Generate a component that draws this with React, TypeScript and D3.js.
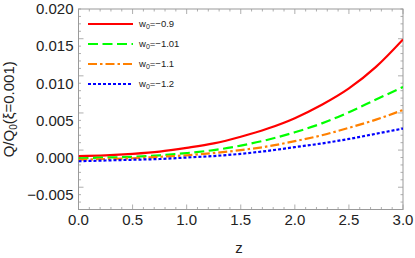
import React from "react";
import * as d3 from "d3";

const zs = [0, 0.25, 0.5, 0.75, 1.0, 1.25, 1.5, 1.75, 2.0, 2.25, 2.5, 2.75, 3.0];
const red = [0.0002, 0.0003, 0.0005, 0.0008, 0.0013, 0.0019, 0.0028, 0.0039, 0.0053, 0.0071, 0.0093, 0.0122, 0.0159];
const green = [-0.0001, 0.0, 0.0001, 0.0003, 0.0006, 0.001, 0.0016, 0.0024, 0.0034, 0.0046, 0.0061, 0.0078, 0.0095];
const orange = [-0.0003, -0.0002, -0.0001, 0.0001, 0.0003, 0.0006, 0.001, 0.0015, 0.0022, 0.003, 0.004, 0.0051, 0.0064];
const blue = [-0.0005, -0.0004, -0.0003, -0.0002, 0.0, 0.0002, 0.0005, 0.0009, 0.0014, 0.0019, 0.0025, 0.0032, 0.0039];
const legendLabels = ["-0.9", "-1.01", "-1.1", "-1.2"];
const xTicks = [0, 0.5, 1, 1.5, 2, 2.5, 3];
const yTicks = [-0.005, 0, 0.005, 0.01, 0.015, 0.02];

const W = 415, H = 258;
const margin = { left: 78.5, right: 12, top: 9, bottom: 48.5 };

const series = [
  { vals: red, color: "#ff0000", dash: "none" },
  { vals: green, color: "#00ff00", dash: "10,4.5" },
  { vals: orange, color: "#ff8000", dash: "9,3,2.5,3" },
  { vals: blue, color: "#0000ff", dash: "3,2" },
];

export default function App() {
  const x = d3.scaleLinear().domain([0, 3]).range([margin.left, W - margin.right]);
  const y = d3.scaleLinear().domain([-0.007, 0.02]).range([H - margin.bottom, margin.top]);
  const line = d3.line<number>().x((_, i) => x(zs[i])).y(d => y(d)).curve(d3.curveMonotoneX);
  const x0 = x.range()[0], x1 = x.range()[1], y0 = y.range()[0], y1 = y.range()[1];
  const frame = "#9a9a9a";
  const xMinor = d3.range(0, 30.01, 1).map(v => v / 10);
  const yMinor = d3.range(-7, 20.01, 1).map(v => v / 1000);
  const font = "'Liberation Sans', Arial, sans-serif";
  const fmtY = d3.format(".3f");
  const fmtX = d3.format(".1f");
  const minus = (s: string) => s.replace("-", "\u2212");

  return (
    <svg width={W} height={H} style={{ position: "absolute", left: 0, top: 0, background: "#fff" }} fontFamily={font}>
      <defs>
        <clipPath id="clip"><rect x={x0} y={y1} width={x1 - x0} height={y0 - y1} /></clipPath>
      </defs>
      {/* ticks, inside on all four sides */}
      {xMinor.map((v, i) => {
        const len = i % 5 === 0 ? 5 : 2.5;
        return (
          <g key={"xm" + i} stroke={frame} strokeWidth={0.8}>
            <line x1={x(v)} x2={x(v)} y1={y0} y2={y0 - len} />
            <line x1={x(v)} x2={x(v)} y1={y1} y2={y1 + len} />
          </g>
        );
      })}
      {yMinor.map((v, i) => {
        const len = (i + 2) % 5 === 0 ? 5 : 2.5;
        return (
          <g key={"ym" + i} stroke={frame} strokeWidth={0.8}>
            <line x1={x0} x2={x0 + len} y1={y(v)} y2={y(v)} />
            <line x1={x1} x2={x1 - len} y1={y(v)} y2={y(v)} />
          </g>
        );
      })}
      <rect x={x0} y={y1} width={x1 - x0} height={y0 - y1} fill="none" stroke={frame} strokeWidth={1} />
      {/* tick labels */}
      {xTicks.map(v => (
        <text key={"xt" + v} x={x(v)} y={225} textAnchor="middle" fontSize={15} fill="#222">{fmtX(v)}</text>
      ))}
      {yTicks.map(v => (
        <text key={"yt" + v} x={x0 - 5} y={y(v) + 5.3} textAnchor="end" fontSize={15} fill="#222">{minus(fmtY(v))}</text>
      ))}
      <text x={239} y={253} textAnchor="middle" fontSize={15} fill="#222">z</text>
      <text transform={`translate(13.5,${(y0 + y1) / 2}) rotate(-90)`} textAnchor="middle" fontSize={15} fill="#222">
        Q/Q<tspan fontSize={10} dy={3}>0</tspan><tspan dy={-3}>(ξ=0.001)</tspan>
      </text>
      {/* curves */}
      <g clipPath="url(#clip)">
        {series.map((s, i) => (
          <path key={"s" + i} d={line(s.vals) || ""} fill="none" stroke={s.color} strokeWidth={2.2} strokeDasharray={s.dash} />
        ))}
      </g>
      {/* legend */}
      {series.map((s, i) => {
        const ly = 24 + i * 20;
        return (
          <g key={"lg" + i}>
            <line x1={88} x2={133} y1={ly} y2={ly} stroke={s.color} strokeWidth={2.2} strokeDasharray={s.dash} />
            <text x={139} y={ly + 3} fontSize={9.5} fill="#222">
              w<tspan fontSize={7} dy={2}>0</tspan><tspan dy={-2}>{"=" + minus(legendLabels[i])}</tspan>
            </text>
          </g>
        );
      })}
    </svg>
  );
}
